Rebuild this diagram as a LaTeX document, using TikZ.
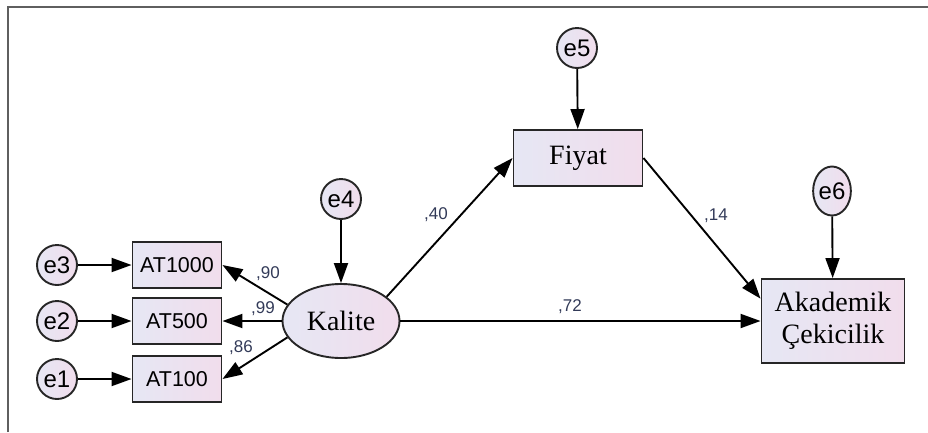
\documentclass[tikz,border=0pt]{standalone}
\usepackage{fontspec}
\setmainfont{Liberation Serif}
\setsansfont{Liberation Sans}
\usetikzlibrary{shapes.geometric,arrows.meta,calc}
\definecolor{fillA}{RGB}{230,231,244}
\definecolor{fillB}{RGB}{241,221,236}
\definecolor{coef}{RGB}{50,58,88}
\definecolor{frameC}{RGB}{95,95,95}
\begin{document}
\begin{tikzpicture}[x=1pt,y=-1pt,
  shaded/.style={draw=black!85, line width=1.9pt, left color=fillA, right color=fillB},
  errc/.style={shaded, circle, minimum size=40pt, inner sep=0pt, font=\sffamily\fontsize{24}{26}\selectfont},
  obsbox/.style={shaded, rectangle, minimum width=89pt, minimum height=46pt, inner sep=0pt, font=\sffamily\fontsize{21.5}{23}\selectfont},
  bigbox/.style={shaded, rectangle, inner sep=0pt, font=\fontsize{28}{32}\selectfont, align=center},
  path/.style={draw=black, line width=1.9pt, -{Triangle[length=20pt,width=14pt]}},
  coeflab/.style={font=\sffamily\fontsize{17}{19}\selectfont, text=coef, inner sep=0pt}
]
\useasboundingbox (0,0) rectangle (928,432);
\draw[frameC, line width=1.8pt] (8,432) -- (8,7) -- (928,7);

% error terms
\node[errc] (e3) at (57,265) {e3};
\node[errc] (e2) at (57,321) {e2};
\node[errc] (e1) at (57,379) {e1};
\node[errc] (e4) at (341,199) {e4};
\node[errc] (e5) at (577,48) {e5};
\node[shaded, ellipse, minimum width=37pt, minimum height=49pt, inner sep=0pt, font=\sffamily\fontsize{24}{26}\selectfont] (e6) at (832,191) {e6};

% observed
\node[obsbox] (at1000) at (177,265) {AT1000};
\node[obsbox] (at500) at (177,321) {AT500};
\node[obsbox] (at100) at (177,379) {AT100};

% latent and others
\node[shaded, ellipse, minimum width=117pt, minimum height=74pt, inner sep=0pt, font=\fontsize{28}{32}\selectfont] (kalite) at (341,321) {Kalite};
\node[bigbox, minimum width=129pt, minimum height=56pt] (fiyat) at (578,158) {Fiyat};
\node[bigbox, minimum width=143pt, minimum height=84pt] (akad) at (833,321) {Akademik\\Çekicilik};

\coordinate (akin) at ($(akad.north west)!0.24!(akad.south west)$);

% connectors
\draw[path] (e3) -- (at1000);
\draw[path] (e2) -- (at500);
\draw[path] (e1) -- (at100);
\draw[path] (e4) -- (kalite);
\draw[path] (e5) -- (fiyat);
\draw[path] (e6) -- (akad);
\draw[path] (kalite.163) -- (at1000.east);
\draw[path] (kalite.west) -- (at500.east);
\draw[path] (kalite.197) -- (at100.east);
\draw[path] (kalite.28) -- (fiyat.west);
\draw[path] (fiyat.east) -- (akin);
\draw[path] (kalite.east) -- (akad.west);

% coefficients
\node[coeflab] (c90) at (268,274) {,90};
\node[coeflab] (c99) at (263,309) {,99};
\node[coeflab] (c86) at (241,348) {,86};
\node[coeflab] (c40) at (436,215) {,40};
\node[coeflab] (c14) at (716,216) {,14};
\node[coeflab] (c72) at (570,307) {,72};
\end{tikzpicture}
\end{document}
